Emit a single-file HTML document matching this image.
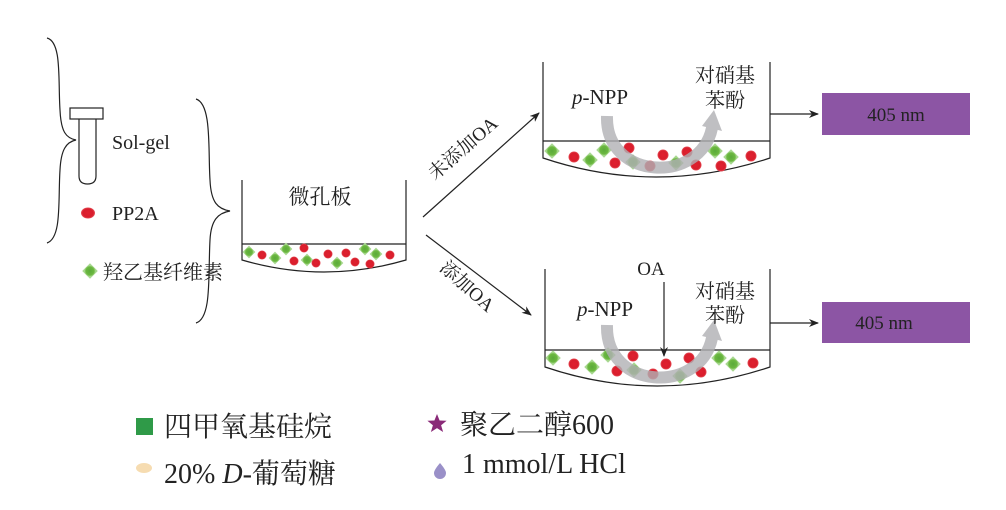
<!DOCTYPE html>
<html><head><meta charset="utf-8"><style>
body{margin:0;background:#fff;}
svg{display:block;}
text{font-family:"Liberation Serif","Noto Serif CJK SC","Noto Sans CJK SC",serif;fill:#222;}
</style></head><body>
<svg width="1006" height="510" viewBox="0 0 1006 510">
<defs>
<marker id="ah" markerWidth="10" markerHeight="8" refX="9" refY="4" orient="auto" markerUnits="userSpaceOnUse">
<path d="M0,0 L10,4 L0,8 L3,4 Z" fill="#222"/></marker>
<radialGradient id="rg"><stop offset="0" stop-color="#e02030"/><stop offset="0.75" stop-color="#d81e2c"/><stop offset="1" stop-color="#e8505a"/></radialGradient>
<radialGradient id="gg"><stop offset="0" stop-color="#5aaa3a"/><stop offset="0.75" stop-color="#6cb840"/><stop offset="1" stop-color="#a8d890"/></radialGradient>
<g id="R"><circle r="5.5" fill="url(#rg)"/></g>
<g id="G"><rect x="-5.5" y="-5.5" width="11" height="11" fill="url(#gg)" transform="rotate(45)"/></g>
<g id="Rs"><circle r="4.5" fill="url(#rg)"/></g>
<g id="Gs"><rect x="-4.5" y="-4.5" width="9" height="9" fill="url(#gg)" transform="rotate(45)"/></g>
</defs>
<g fill="none" stroke="#222" stroke-width="1.2">
<path d="M47,38 C62,42 58,80 60,110 C61,132 66,138 76,140 C66,142 61,150 60,170 C58,200 62,238 47,243"/>
<path d="M196,99 C212,104 208,150 210,180 C211,203 218,209 230,211 C218,213 211,220 210,240 C208,275 212,318 196,323"/>
<rect x="70" y="108" width="33" height="11"/>
<path d="M79,119 V176 Q79,184 87.5,184 Q96,184 96,176 V119"/>
<path d="M242,180 V260 Q324,284 406,260 V180"/>
<line x1="242" y1="244" x2="406" y2="244"/>
<path d="M543,62 V158 Q656,196 770,158 V62"/>
<line x1="543" y1="141" x2="770" y2="141"/>
<path d="M545,269 V367 Q657,405 770,367 V269"/>
<line x1="545" y1="350" x2="770" y2="350"/>
<line x1="423" y1="217" x2="539" y2="113" marker-end="url(#ah)"/>
<line x1="426" y1="235" x2="531" y2="315" marker-end="url(#ah)"/>
<line x1="770" y1="114" x2="818" y2="114" marker-end="url(#ah)"/>
<line x1="770" y1="323" x2="818" y2="323" marker-end="url(#ah)"/>
<line x1="664" y1="282" x2="664" y2="356" marker-end="url(#ah)"/>
</g>
<text x="112" y="149" font-size="20">Sol-gel</text>
<ellipse cx="88" cy="213" rx="7" ry="5.5" fill="url(#rg)"/>
<text x="112" y="220" font-size="20">PP2A</text>
<g transform="translate(90,271)"><use href="#G"/></g>
<text x="103" y="279" font-size="20">羟乙基纤维素</text>
<text x="320" y="204" font-size="21" text-anchor="middle">微孔板</text>
<g>
<use href="#Gs" x="249" y="252"/><use href="#Rs" x="262" y="255"/><use href="#Gs" x="275" y="258"/><use href="#Gs" x="286" y="249"/>
<use href="#Rs" x="294" y="261"/><use href="#Rs" x="304" y="248"/><use href="#Gs" x="307" y="260"/><use href="#Rs" x="316" y="263"/>
<use href="#Rs" x="328" y="254"/><use href="#Gs" x="337" y="263"/><use href="#Rs" x="346" y="253"/><use href="#Rs" x="355" y="262"/>
<use href="#Gs" x="365" y="249"/><use href="#Rs" x="370" y="264"/><use href="#Gs" x="376" y="254"/><use href="#Rs" x="390" y="255"/>
</g>
<text transform="translate(467,153) rotate(-41)" font-size="19" text-anchor="middle">未添加OA</text>
<text transform="translate(463,291) rotate(42)" font-size="19" text-anchor="middle">添加OA</text>
<g>
<use href="#G" x="552" y="151"/><use href="#R" x="574" y="157"/><use href="#G" x="590" y="160"/><use href="#G" x="604" y="150"/>
<use href="#R" x="629" y="148"/><use href="#R" x="615" y="163"/><use href="#G" x="633" y="162"/><use href="#R" x="650" y="166"/>
<use href="#R" x="663" y="155"/><use href="#G" x="676" y="163"/><use href="#R" x="687" y="152"/><use href="#R" x="696" y="165"/>
<use href="#G" x="715" y="151"/><use href="#G" x="731" y="157"/><use href="#R" x="721" y="166"/><use href="#R" x="751" y="156"/>
</g>
<g opacity="0.8">
<path d="M607,116 C605,180 700,185 712,128" fill="none" stroke="#b0b0b4" stroke-width="12"/>
<path d="M702,126 L714,110 L722,131 Z" fill="#b0b0b4"/>
</g>
<text x="572" y="104" font-size="21"><tspan font-style="italic">p</tspan>-NPP</text>
<text x="725" y="82" font-size="20" text-anchor="middle">对硝基</text>
<text x="725" y="107" font-size="20" text-anchor="middle">苯酚</text>
<rect x="822" y="93" width="148" height="42" fill="#8c55a4"/>
<text x="896" y="121" font-size="19" text-anchor="middle" fill="#333">405 nm</text>
<g>
<use href="#G" x="553" y="358"/><use href="#R" x="574" y="364"/><use href="#G" x="592" y="367"/><use href="#G" x="608" y="355"/>
<use href="#R" x="633" y="356"/><use href="#R" x="617" y="371"/><use href="#G" x="634" y="370"/><use href="#R" x="653" y="374"/>
<use href="#R" x="666" y="364"/><use href="#G" x="680" y="376"/><use href="#R" x="689" y="358"/><use href="#R" x="701" y="372"/>
<use href="#G" x="719" y="358"/><use href="#G" x="733" y="364"/><use href="#R" x="753" y="363"/>
</g>
<g opacity="0.8">
<path d="M607,325 C605,390 700,395 712,338" fill="none" stroke="#b0b0b4" stroke-width="12"/>
<path d="M702,336 L714,320 L722,341 Z" fill="#b0b0b4"/>
</g>
<text x="651" y="275" font-size="19" text-anchor="middle">OA</text>
<text x="577" y="316" font-size="21"><tspan font-style="italic">p</tspan>-NPP</text>
<text x="725" y="298" font-size="20" text-anchor="middle">对硝基</text>
<text x="725" y="322" font-size="20" text-anchor="middle">苯酚</text>
<rect x="822" y="302" width="148" height="41" fill="#8c55a4"/>
<text x="884" y="329" font-size="19" text-anchor="middle" fill="#333">405 nm</text>
<rect x="136" y="418" width="17" height="17" fill="#2f9a48"/>
<text x="164" y="436" font-size="28">四甲氧基硅烷</text>
<ellipse cx="144" cy="468" rx="8" ry="5" fill="#f5d8a8" opacity="0.9"/>
<text x="164" y="483" font-size="28">20% <tspan font-style="italic">D</tspan>-葡萄糖</text>
<path d="M437,414 l2.6,6.5 7,0.3 -5.5,4.4 2,6.8 -6.1,-3.9 -6.1,3.9 2,-6.8 -5.5,-4.4 7,-0.3z" fill="#8a2a78"/>
<text x="460" y="434" font-size="28">聚乙二醇600</text>
<path d="M440,463 Q446,470 446,473 A6,6 0 0 1 434,473 Q434,470 440,463Z" fill="#9a90c8"/>
<text x="462" y="473" font-size="28">1 mmol/L HCl</text>
</svg>
</body></html>
